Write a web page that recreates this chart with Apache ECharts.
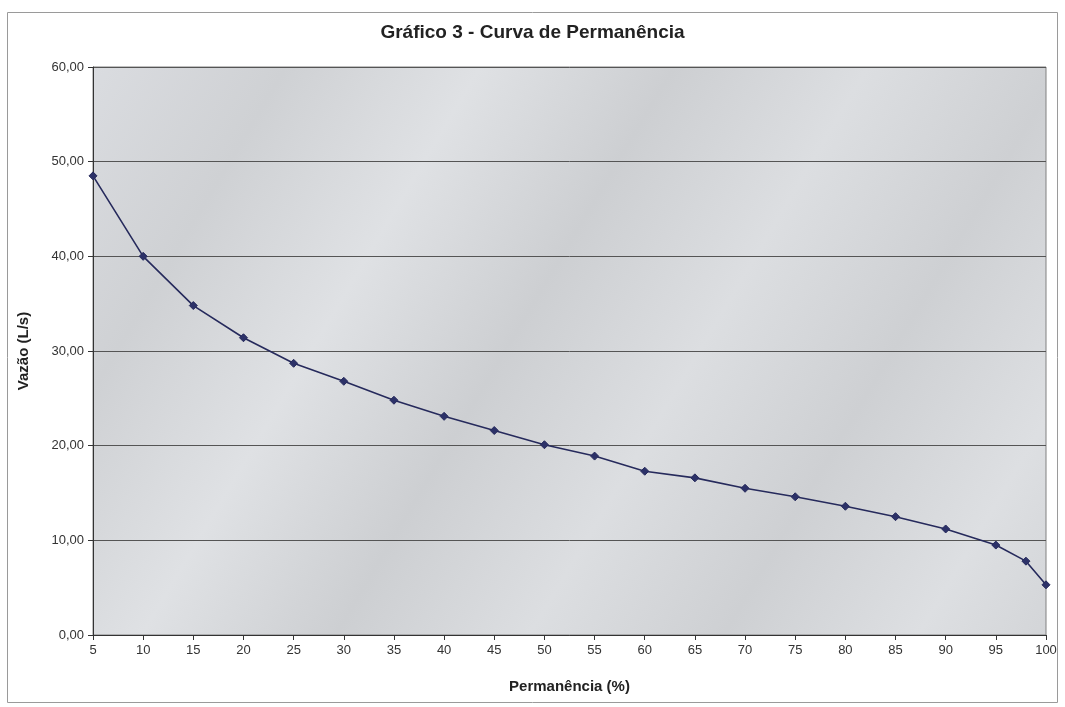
<!DOCTYPE html>
<html>
<head>
<meta charset="utf-8">
<script src="https://cdn.jsdelivr.net/npm/echarts@6/dist/echarts.min.js"></script>
<style>
html,body{margin:0;padding:0;background:#fff;}
#c{width:1065px;height:707px;}
</style>
</head>
<body>
<div id="c"></div>
<script>
const titleText = 'Gráfico 3 - Curva de Permanência';
const xName = 'Permanência (%)';
const yName = 'Vazão (L/s)';
const permanencia = [5,10,15,20,25,30,35,40,45,50,55,60,65,70,75,80,85,90,95,98,100];
const vazao = [48.5,40.0,34.8,31.4,28.7,26.8,24.8,23.1,21.6,20.1,18.9,17.3,16.6,15.5,14.6,13.6,12.5,11.2,9.5,7.8,5.3];

const chart = echarts.init(document.getElementById('c'));
const font = '"Liberation Sans", Arial, sans-serif';
chart.setOption({
  animation: false,
  backgroundColor: '#ffffff',
  title: {
    text: titleText, left: 'center', top: 18,
    textStyle: {fontFamily: font, fontSize: 19, fontWeight: 'bold', color: '#222'}
  },
  graphic: [{
    type: 'rect', shape: {x: 7.5, y: 12.5, width: 1050, height: 690},
    style: {fill: null, stroke: '#9a9a9a', lineWidth: 1}, silent: true, z: -1
  }],
  grid: {
    left: 93, right: 19, top: 67, bottom: 72, show: true,
    borderColor: '#808080', borderWidth: 1,
    backgroundColor: {
      type: 'linear', x: 0, y: 0, x2: 1, y2: 1,
      colorStops: [
        {offset: 0, color: '#dadce0'},
        {offset: 0.15, color: '#cfd1d4'},
        {offset: 0.3, color: '#dfe1e4'},
        {offset: 0.45, color: '#cdcfd2'},
        {offset: 0.6, color: '#dcdee1'},
        {offset: 0.75, color: '#ced0d3'},
        {offset: 0.9, color: '#dddfe2'},
        {offset: 1, color: '#d3d5d8'}
      ]
    }
  },
  xAxis: {
    type: 'value', min: 5, max: 100, interval: 5,
    name: xName, nameLocation: 'middle', nameGap: 44,
    nameTextStyle: {fontFamily: font, fontSize: 15, fontWeight: 'bold', color: '#222'},
    axisLine: {show: true, onZero: false, lineStyle: {color: '#333', width: 1}},
    axisTick: {show: true, length: 5, lineStyle: {color: '#333'}},
    axisLabel: {fontFamily: font, fontSize: 13, color: '#333', margin: 9,
      formatter: v => String(v)},
    splitLine: {show: false}
  },
  yAxis: {
    type: 'value', min: 0, max: 60, interval: 10,
    name: yName, nameLocation: 'middle', nameGap: 62, nameRotate: 90,
    nameTextStyle: {fontFamily: font, fontSize: 15, fontWeight: 'bold', color: '#222'},
    axisLine: {show: true, lineStyle: {color: '#333', width: 1}},
    axisTick: {show: true, length: 5, lineStyle: {color: '#333'}},
    axisLabel: {fontFamily: font, fontSize: 13, color: '#333', margin: 9,
      formatter: v => v.toFixed(2).replace('.', ',')},
    splitLine: {show: true, lineStyle: {color: '#555', width: 1}}
  },
  series: [{
    type: 'line',
    data: permanencia.map((x, i) => [x, vazao[i]]),
    symbol: 'diamond', symbolSize: 8,
    lineStyle: {color: '#262a5c', width: 1.6},
    itemStyle: {color: '#2c3168', borderColor: '#262a5c'},
    smooth: false
  }]
});
</script>
</body>
</html>
